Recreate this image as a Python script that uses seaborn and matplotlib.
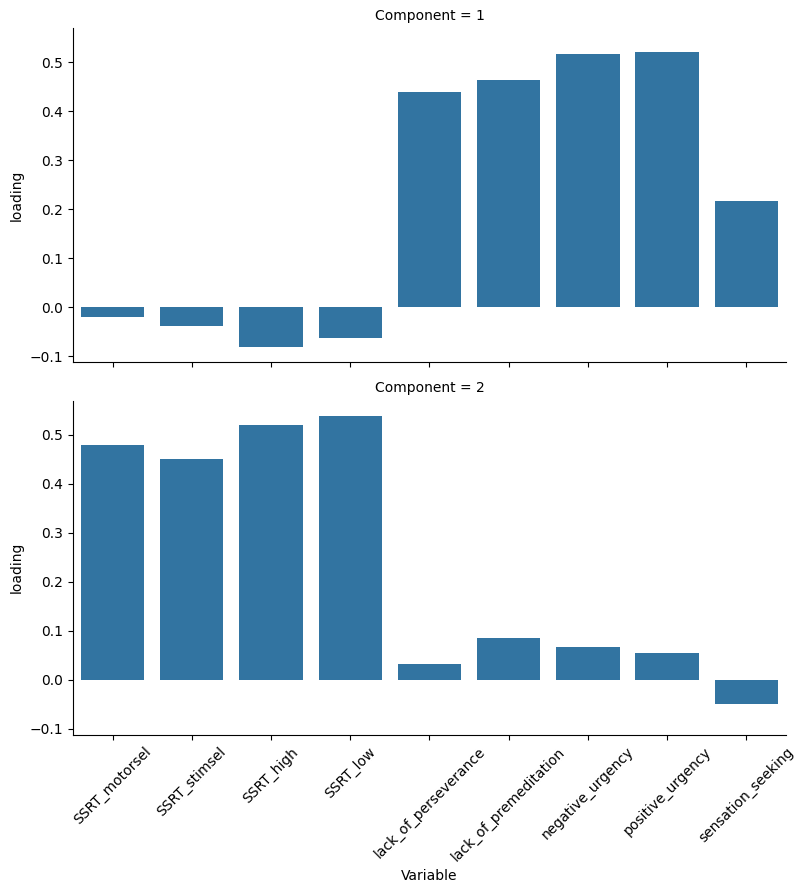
import matplotlib
matplotlib.use("Agg")
import matplotlib.pyplot as plt
import seaborn as sns
import pandas as pd

variables = ["SSRT_motorsel", "SSRT_stimsel", "SSRT_high", "SSRT_low",
             "lack_of_perseverance", "lack_of_premeditation",
             "negative_urgency", "positive_urgency", "sensation_seeking"]
comp1 = [-0.020, -0.039, -0.082, -0.063, 0.439, 0.463, 0.516, 0.520, 0.216]
comp2 = [0.479, 0.451, 0.520, 0.539, 0.031, 0.084, 0.066, 0.055, -0.049]

df = pd.DataFrame({
    "Variable": variables * 2,
    "loading": comp1 + comp2,
    "Component": [1] * len(variables) + [2] * len(variables),
})

g = sns.catplot(data=df, x="Variable", y="loading", row="Component",
                kind="bar", height=4, aspect=2, color="#1f77b4")
for ax in g.axes.flat:
    ax.tick_params(axis="x", rotation=45)
g.figure.set_size_inches(8.08, 8.94)
g.figure.subplots_adjust(left=0.0903, right=0.9728, top=0.9687, bottom=0.1779, hspace=0.114)
g.figure.savefig("out.png", dpi=100)
